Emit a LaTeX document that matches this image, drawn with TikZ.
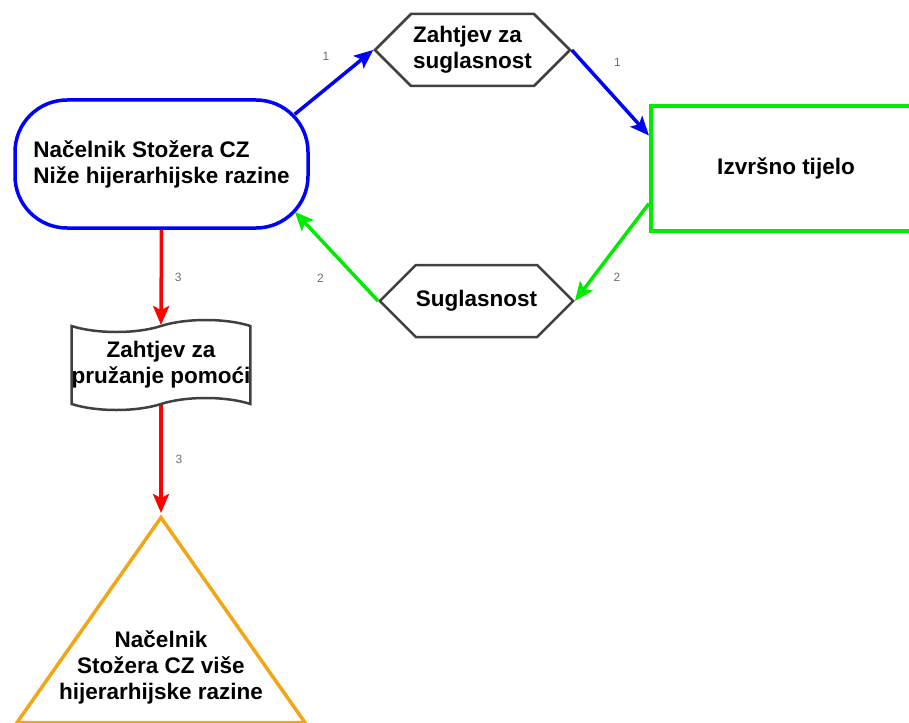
\documentclass[tikz,border=0pt]{standalone}
\usepackage{fontspec}
\setmainfont{Liberation Sans}
\usetikzlibrary{shapes.geometric,shapes.symbols,calc,arrows.meta}
\tikzset{>={Stealth[length=19pt,width=16pt,inset=4pt]}}
\definecolor{linkblue}{RGB}{0,0,255}
\definecolor{linkgreen}{RGB}{0,235,0}
\definecolor{linkred}{RGB}{255,0,0}
\definecolor{triorange}{RGB}{242,166,22}
\definecolor{edgegray}{RGB}{64,64,64}
\definecolor{numgray}{RGB}{110,110,110}

\begin{document}
\begin{tikzpicture}[x=1pt,y=-1pt,
  box/.style={font=\fontsize{22.5}{26}\selectfont\bfseries,inner sep=0pt},
  hexa/.style={box,signal,signal to=west and east,draw=edgegray,line width=2.5pt,
    minimum width=195pt,minimum height=72pt},
  lab/.style={font=\fontsize{12}{14}\selectfont,text=numgray},
  bluearrow/.style={->,draw=linkblue,line width=3.5pt},
  greenarrow/.style={->,draw=linkgreen,line width=3.5pt},
  redarrow/.style={->,draw=linkred,line width=3.5pt}]
\useasboundingbox (0,0) rectangle (909,722);
\node[box,draw=linkblue,line width=3.5pt,rounded corners=52pt,minimum width=293pt,
  minimum height=128pt,align=left] (lower) at (161.5,164)
  {Načelnik Stožera CZ\\Niže hijerarhijske razine};
\node[hexa,align=left] (ask) at (472.5,50) {Zahtjev za\\suglasnost};
\node[hexa,minimum width=193pt] (agree) at (476.5,301) {Suglasnost};
\node[box,draw=linkgreen,line width=4pt,minimum width=270pt,minimum height=125pt]
  (exec) at (786,168.5) {Izvršno tijelo};
\node[box,tape,draw=edgegray,line width=2.5pt,minimum width=178pt,minimum height=90pt,
  tape bend height=12pt,align=center] (help) at (161,365) {Zahtjev za\\pružanje pomoći};
\node[isosceles triangle,isosceles triangle stretches,shape border rotate=90,
  draw=triorange,line width=3.5pt,minimum width=288pt,minimum height=205pt,
  inner sep=0pt,anchor=apex] (upper) at (161,513) {};
\node[box,align=center] (uppertext) at (161,667)
  {Načelnik\\Stožera CZ više\\hijerarhijske razine};
% 1: zahtjev
\draw[bluearrow] ($(lower.north east)+(-15,16)$) -- node[lab,midway,xshift=-8pt,yshift=26pt] {1} (ask.west);
\draw[bluearrow] (ask.east) -- node[lab,midway,xshift=7pt,yshift=30pt] {1} ($(exec.west)+(0,-33)$);
% 2: suglasnost
\draw[greenarrow] ($(exec.west)+(0,35)$) -- node[lab,midway,xshift=5pt,yshift=-25pt] {2} (agree.east);
\draw[greenarrow] (agree.west) -- node[lab,midway,xshift=-16pt,yshift=-22pt] {2} ($(lower.south east)+(-15,-18)$);
% 3: pomoc
\draw[redarrow] (lower.south) -- node[lab,midway,xshift=17pt] {3} (help.north);
\draw[redarrow] (help.south) -- node[lab,midway,xshift=18pt] {3} (upper.apex);
\end{tikzpicture}
\end{document}
